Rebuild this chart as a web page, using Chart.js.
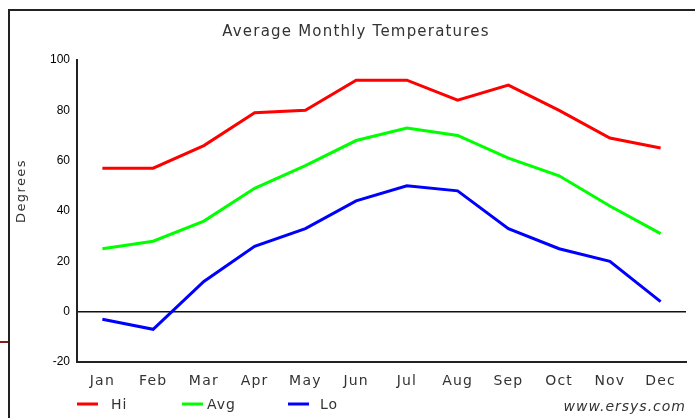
<!DOCTYPE html>
<html>
<head>
<meta charset="utf-8">
<script src="https://cdn.jsdelivr.net/npm/chart.js@4"></script>
<style>
  html, body { margin: 0; padding: 0; background: #fff; }
  #wrap { position: relative; width: 695px; height: 418px; overflow: hidden; }
  #frame { position: absolute; left: 8px; top: 9px; width: 720px; height: 440px; border: 2px solid #222; box-sizing: border-box; }
  #mark { position: absolute; left: 0; top: 341px; width: 8px; height: 2px; background: #8b1a1a; }
  canvas { position: absolute; left: 0; top: 0; }
</style>
</head>
<body>
<div id="wrap">
  <div id="frame"></div>
  <div id="mark"></div>
  <canvas id="c" width="695" height="418"></canvas>
</div>
<script>
const months = ["Jan","Feb","Mar","Apr","May","Jun","Jul","Aug","Sep","Oct","Nov","Dec"];
const hiTemps  = [57, 57, 66, 79, 80, 92, 92, 84, 90, 80, 69, 65];
const avgTemps = [25, 28, 36, 49, 58, 68, 73, 70, 61, 54, 42, 31];
const loTemps  = [-3, -7, 12, 26, 33, 44, 50, 48, 33, 25, 20, 4];
const yTicks   = [100, 80, 60, 40, 20, 0, -20];
const titleText = "Average Monthly Temperatures";
const yTitle = "Degrees";
const credit = "www.ersys.com";

const extras = {
  id: 'extras',
  beforeDraw(chart) {
    const sx = chart.scales.x;
    if (sx && !sx._spaced) {
      const orig = sx.drawLabels;
      sx.drawLabels = function (area) {
        const ctx = this.ctx;
        ctx.save();
        ctx.letterSpacing = '1.2px';
        orig.call(this, area);
        ctx.restore();
      };
      sx._spaced = true;
    }
  },
  afterDraw(chart) {
    const ctx = chart.ctx;
    ctx.save();
    // title
    ctx.fillStyle = '#333';
    ctx.font = '15px "DejaVu Sans"';
    ctx.textAlign = 'center';
    ctx.textBaseline = 'middle';
    ctx.letterSpacing = '1.2px';
    ctx.fillText(titleText, 356, 32);
    // y title
    ctx.save();
    ctx.translate(22, 191);
    ctx.rotate(-Math.PI / 2);
    ctx.font = '13px "DejaVu Sans"';
    ctx.letterSpacing = '1.4px';
    ctx.fillText(yTitle, 0, 0);
    ctx.restore();
    // legend
    const lineX = [77, 182, 288];
    const textX = [111, 207, 320];
    chart.data.datasets.forEach((ds, i) => {
      ctx.strokeStyle = ds.borderColor;
      ctx.lineWidth = 3;
      ctx.beginPath();
      ctx.moveTo(lineX[i], 404);
      ctx.lineTo(lineX[i] + 21, 404);
      ctx.stroke();
      ctx.fillStyle = '#333';
      ctx.font = '14px "DejaVu Sans"';
      ctx.textAlign = 'left';
      ctx.letterSpacing = '1px';
      ctx.fillText(ds.label, textX[i], 405);
    });
    // credit
    ctx.font = 'italic 14px "DejaVu Sans"';
    ctx.textAlign = 'right';
    ctx.letterSpacing = '1px';
    ctx.fillStyle = '#333';
    ctx.fillText(credit, 686, 407);
    ctx.restore();
  }
};

new Chart(document.getElementById('c'), {
  type: 'line',
  data: {
    labels: months,
    datasets: [
      { label: 'Hi',  data: hiTemps,  borderColor: '#ff0000' },
      { label: 'Avg', data: avgTemps, borderColor: '#00ff00' },
      { label: 'Lo',  data: loTemps,  borderColor: '#0000ff' }
    ]
  },
  options: {
    responsive: false,
    animation: false,
    devicePixelRatio: 1,
    layout: { padding: { top: 60, right: 9, bottom: 0, left: 0 } },
    elements: {
      line: { borderWidth: 3, tension: 0 },
      point: { radius: 0 }
    },
    plugins: { legend: { display: false }, title: { display: false }, tooltip: { enabled: false } },
    scales: {
      x: {
        offset: true,
        grid: { display: true, drawOnChartArea: false, drawTicks: false, color: 'transparent' },
        border: { display: true, color: '#222', width: 2 },
        ticks: { color: '#333', font: { family: 'DejaVu Sans', size: 14 }, padding: 11, maxRotation: 0, autoSkip: false },
        afterFit(s) { s.height = 56; }
      },
      y: {
        min: -20, max: 100,
        afterBuildTicks(s) { s.ticks = yTicks.map(v => ({ value: v })); },
        grid: {
          drawTicks: false,
          color: c => c.tick && c.tick.value === 0 ? '#111' : 'transparent',
          lineWidth: 1.5
        },
        border: { display: true, color: '#222', width: 2 },
        ticks: { color: '#000', font: { family: 'Liberation Sans', size: 12 }, padding: 7 },
        afterFit(s) { s.width = 77; }
      }
    }
  },
  plugins: [extras]
});
</script>
</body>
</html>
